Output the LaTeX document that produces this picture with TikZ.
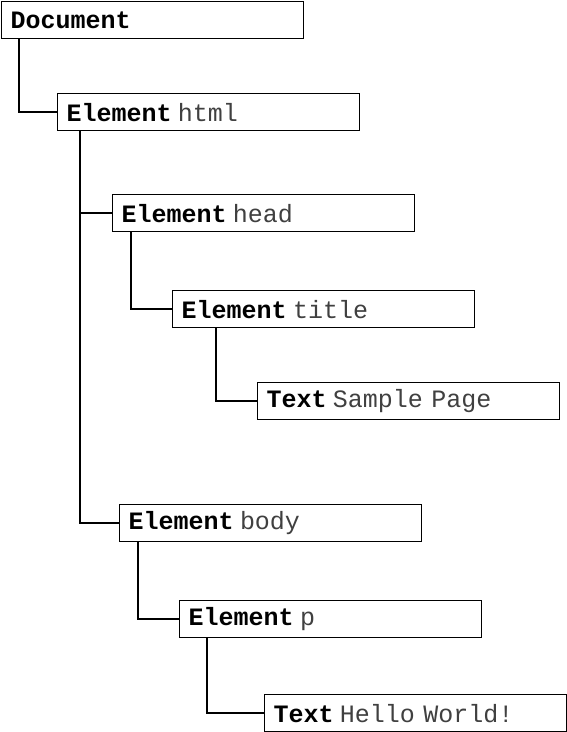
\documentclass[tikz,border=0pt]{standalone}
\usepackage{fontspec}
\setmonofont{Liberation Mono}
\begin{document}
\begin{tikzpicture}[x=1pt,y=1pt,
  box/.style={draw=black, line width=1.3pt, anchor=north west, minimum height=37pt,
    text width=284pt, inner xsep=9pt, inner ysep=0pt, align=left,
    font=\fontsize{25}{25}\selectfont\ttfamily, fill=white},
  conn/.style={draw=black, line width=2.2pt}]
\useasboundingbox (0,0) rectangle (566,-732);
\newcommand{\kw}[1]{\textbf{#1}}
\newcommand{\nm}[1]{\textcolor{black!75}{#1}}
\node[box] (doc) at (1,-1) {\kw{Document}};
\node[box] (html) at (57,-93) {\kw{Element}\hspace{-2pt} \nm{html}};
\node[box] (head) at (112,-194) {\kw{Element}\hspace{-2pt} \nm{head}};
\node[box] (title) at (172,-290) {\kw{Element}\hspace{-2pt} \nm{title}};
\node[box] (txt1) at (257,-382) {\kw{Text}\hspace{-2pt} \nm{Sample Page}};
\node[box] (body) at (119,-504) {\kw{Element}\hspace{-2pt} \nm{body}};
\node[box] (p) at (179,-600) {\kw{Element}\hspace{-2pt} \nm{p}};
\node[box] (txt2) at (264,-694) {\kw{Text}\hspace{-2pt} \nm{Hello World!}};
\draw[conn] ([xshift=18pt]doc.south west) |- (html.west);
\draw[conn] ([xshift=23pt]html.south west) |- (head.west);
\draw[conn] ([xshift=23pt]html.south west) |- (body.west);
\draw[conn] ([xshift=19pt]head.south west) |- (title.west);
\draw[conn] ([xshift=44pt]title.south west) |- (txt1.west);
\draw[conn] ([xshift=19pt]body.south west) |- (p.west);
\draw[conn] ([xshift=28pt]p.south west) |- (txt2.west);
\end{tikzpicture}
\end{document}
